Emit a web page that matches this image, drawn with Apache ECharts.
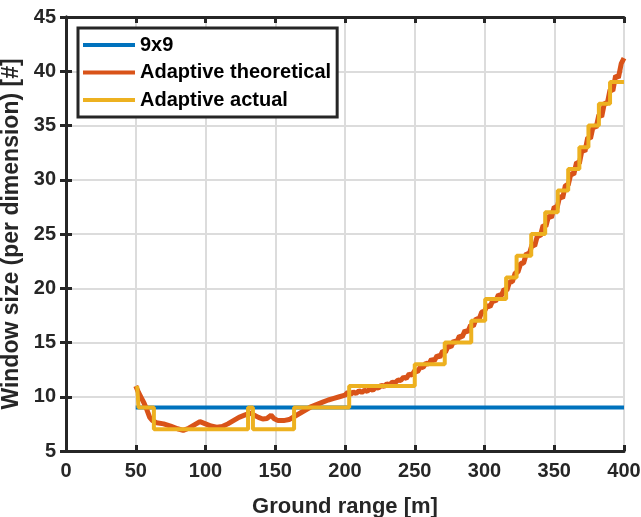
<!DOCTYPE html>
<html>
<head>
<meta charset="utf-8">
<script src="https://cdn.jsdelivr.net/npm/echarts@6/dist/echarts.min.js"></script>
<style>
  html, body { margin: 0; padding: 0; background: #fff; }
  #chart { width: 641px; height: 517px; }
</style>
</head>
<body>
<div id="chart"></div>
<script>
// fixed 9x9 window
var fixedRange = [50, 400];
var fixedSize = [9, 9];

// theoretical window size (it is noisy)
var theoryRange = [50, 52, 54, 56, 58, 60, 62, 65, 70, 75, 80, 84, 88, 92, 96, 100, 104, 108, 112, 116,
  120, 124, 128, 132, 135, 138, 141, 144, 147, 149, 152, 156, 160, 164, 168, 172, 176, 180, 184, 188,
  192, 196, 200, 202, 204, 206, 208, 210, 212, 214, 216, 218, 220, 222, 224, 226, 228, 230, 232, 234,
  236, 238, 240, 242, 244, 246, 248, 250, 252, 254, 256, 258, 260, 262, 264, 266, 268, 270, 272, 274,
  276, 278, 280, 282, 284, 286, 288, 290, 292, 294, 296, 298, 300, 302, 304, 306, 308, 310, 312, 314,
  316, 318, 320, 322, 324, 326, 328, 330, 332, 334, 336, 338, 340, 342, 344, 346, 348, 350, 352, 354,
  356, 358, 360, 362, 364, 366, 368, 370, 372, 374, 376, 378, 380, 382, 384, 386, 388, 390, 392, 394,
  396, 398, 400];
var theorySize = [11.0, 10.4, 9.9, 9.4, 8.8, 8.1, 7.8, 7.6, 7.5, 7.3, 7.05, 6.9, 7.1, 7.4, 7.7, 7.5, 7.3, 7.2, 7.25, 7.5,
  7.8, 8.1, 8.3, 8.5, 8.3, 8.1, 7.95, 8.0, 8.3, 8.0, 7.8, 7.8, 7.9, 8.2, 8.5, 8.8, 9.1, 9.3, 9.5, 9.7,
  9.85, 10.0, 10.15, 10.4, 10.2, 10.45, 10.3, 10.55, 10.4, 10.6, 10.5, 10.75, 10.6, 10.85, 10.8, 11.05, 10.95, 11.2, 11.1, 11.35,
  11.3, 11.55, 11.5, 11.8, 11.7, 12.1, 12.0, 12.4, 12.3, 12.75, 12.7, 13.1, 13.0, 13.45, 13.3, 13.8, 13.65, 14.2, 14.1, 14.7,
  14.6, 15.15, 15.0, 15.6, 15.5, 16.1, 15.95, 16.6, 16.5, 17.2, 17.1, 17.8, 17.9, 18.4, 18.3, 18.9, 18.8, 19.4, 19.3, 19.9,
  19.8, 20.6, 20.6, 21.4, 21.5, 22.3, 22.3, 23.2, 23.1, 24.0, 23.9, 24.9, 24.8, 25.8, 25.7, 26.7, 26.5, 27.5, 27.4, 28.5,
  28.3, 29.5, 29.5, 30.6, 30.5, 31.6, 31.5, 32.8, 32.6, 33.9, 33.8, 35.0, 34.8, 36.0, 35.8, 37.1, 37.0, 38.3, 38.2, 39.6,
  39.4, 40.7, 41.2];

// actual (odd) window size, value holds until the next range
var actualRange = [51, 52, 63, 130.5, 134, 163.5, 203, 250, 271.5, 290.5, 300.5, 315.5, 323, 333.5,
  343.5, 352.5, 360, 368, 374.5, 382, 390, 400];
var actualSize = [11, 9, 7, 9, 7, 9, 11, 13, 15, 17, 19, 21, 23, 25,
  27, 29, 31, 33, 35, 37, 39, 39];

function pairs(xs, ys) {
  return xs.map(function (x, i) { return [x, ys[i]]; });
}

var chart = echarts.init(document.getElementById('chart'));
var font = 'Liberation Sans, Arial, Helvetica, sans-serif';
var ink = '#262626';

var option = {
  animation: false,
  grid: { left: 66, right: 17, top: 17, bottom: 66, containLabel: false, outerBoundsMode: 'none' },
  legend: {
    data: ['9x9', 'Adaptive theoretical', 'Adaptive actual'],
    orient: 'vertical',
    left: 78,
    top: 28,
    padding: [7, 6, 7, 5],
    itemGap: 7.5,
    itemWidth: 52,
    itemHeight: 4,
    icon: 'rect',
    backgroundColor: '#fff',
    borderColor: ink,
    borderWidth: 3,
    textStyle: { fontFamily: font, fontSize: 20, fontWeight: 'bold', color: '#000', lineHeight: 20 }
  },
  xAxis: [{
    type: 'value', min: 0, max: 400, interval: 50,
    name: 'Ground range [m]', nameLocation: 'middle', nameGap: 45,
    nameTextStyle: { fontFamily: font, fontSize: 22, fontWeight: 'bold', color: ink },
    axisLine: { lineStyle: { color: ink, width: 3 } },
    axisTick: { inside: true, length: 6, lineStyle: { color: ink, width: 3 } },
    axisLabel: { margin: 10, fontFamily: font, fontSize: 20, fontWeight: 'bold', color: ink },
    splitLine: { lineStyle: { color: '#dcdcdc', width: 2 } }
  }, {
    type: 'value', min: 0, max: 400, interval: 50, position: 'top',
    axisLine: { lineStyle: { color: ink, width: 3 } },
    axisTick: { inside: true, length: 6, lineStyle: { color: ink, width: 3 } },
    axisLabel: { show: false },
    splitLine: { show: false }
  }],
  yAxis: [{
    type: 'value', min: 5, max: 45, interval: 5,
    name: 'Window size (per dimension) [#]', nameLocation: 'middle', nameGap: 40,
    nameTextStyle: { fontFamily: font, fontSize: 23, fontWeight: 'bold', color: ink },
    axisLine: { show: true, lineStyle: { color: ink, width: 3 } },
    axisTick: { show: true, inside: true, length: 6, lineStyle: { color: ink, width: 3 } },
    axisLabel: { margin: 10, fontFamily: font, fontSize: 20, fontWeight: 'bold', color: ink },
    splitLine: { lineStyle: { color: '#dcdcdc', width: 2 } }
  }, {
    type: 'value', min: 5, max: 45, interval: 5, position: 'right',
    axisLine: { show: true, lineStyle: { color: ink, width: 3 } },
    axisTick: { show: true, inside: true, length: 6, lineStyle: { color: ink, width: 3 } },
    axisLabel: { show: false },
    splitLine: { show: false }
  }],
  series: [{
    name: '9x9', type: 'line', showSymbol: false,
    data: pairs(fixedRange, fixedSize),
    itemStyle: { color: '#0072BD' },
    lineStyle: { color: '#0072BD', width: 4 }
  }, {
    name: 'Adaptive theoretical', type: 'line', showSymbol: false,
    data: pairs(theoryRange, theorySize),
    itemStyle: { color: '#D95319' },
    lineStyle: { color: '#D95319', width: 5 }
  }, {
    name: 'Adaptive actual', type: 'line', showSymbol: false, step: 'end',
    data: pairs(actualRange, actualSize),
    itemStyle: { color: '#EDB120' },
    lineStyle: { color: '#EDB120', width: 4 }
  }]
};

chart.setOption(option);
</script>
</body>
</html>
